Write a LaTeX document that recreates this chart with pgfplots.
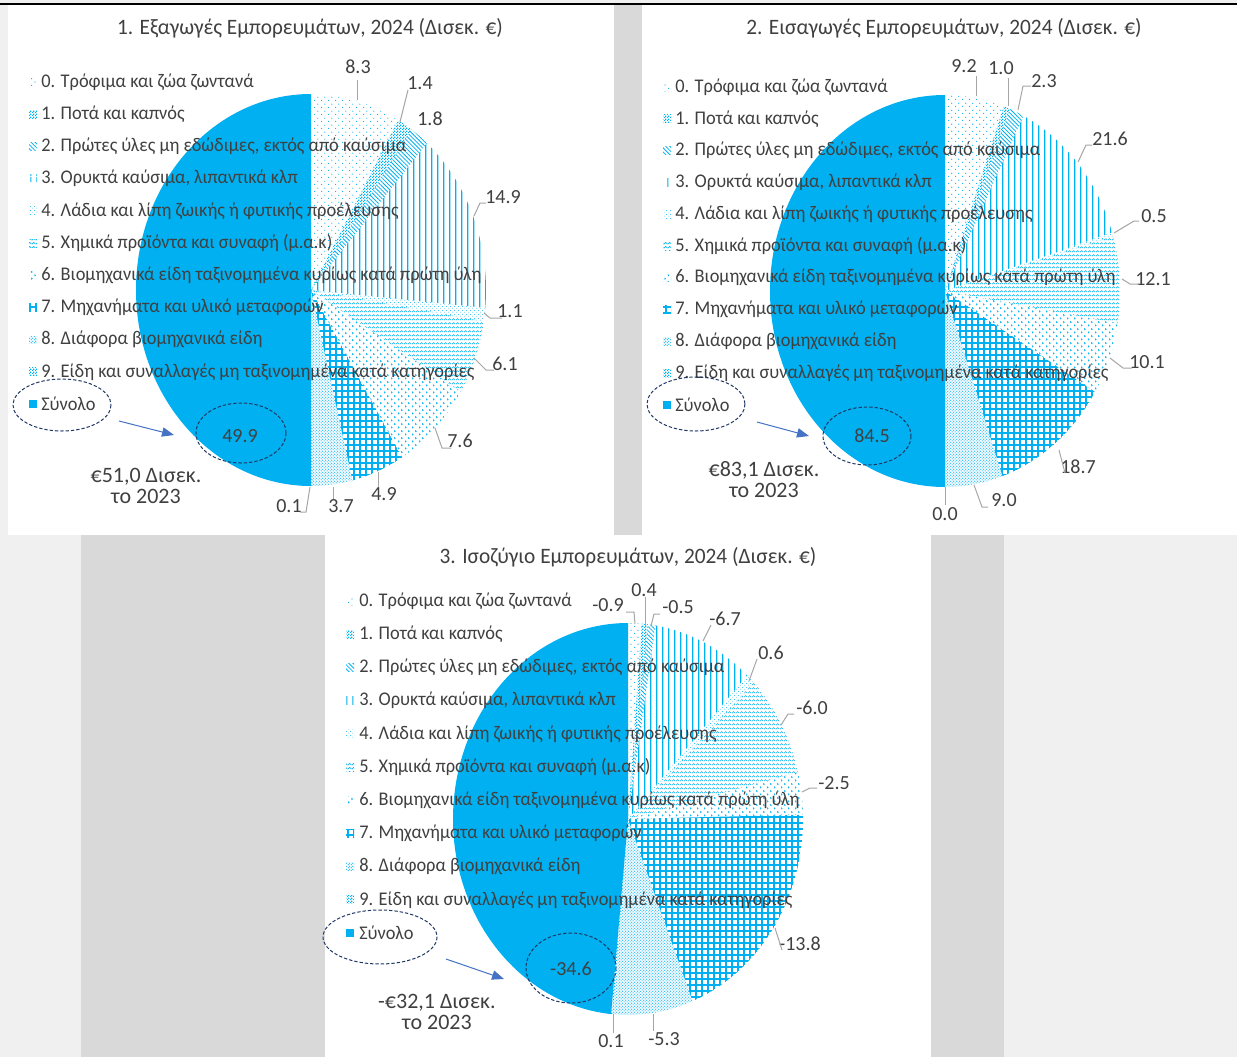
\documentclass[border=0pt]{standalone}
\usepackage{pgfplots}
\pgfplotsset{compat=1.18}
\usepackage{pgfplotstable}
\usepackage{fontspec}
\setmainfont{Carlito}
\usetikzlibrary{patterns,patterns.meta,arrows.meta}

\definecolor{pieblue}{HTML}{00B0F0}
\definecolor{txt}{HTML}{404040}
\definecolor{lead}{HTML}{A6A6A6}
\definecolor{navy}{HTML}{203864}
\definecolor{arrowblue}{HTML}{4472C4}
\definecolor{bgdark}{HTML}{D9D9D9}
\definecolor{bglight}{HTML}{F0F0F0}

% --- patterns (form only, coloured with pieblue)
\pgfdeclarepatternformonly{sparsedots}{\pgfqpoint{0pt}{0pt}}{\pgfqpoint{5pt}{5pt}}{\pgfqpoint{5pt}{5pt}}{%
  \pgfpathcircle{\pgfqpoint{1.25pt}{1.25pt}}{0.45pt}%
  \pgfpathcircle{\pgfqpoint{3.75pt}{3.75pt}}{0.45pt}\pgfusepath{fill}}
\pgfdeclarepatternformonly{checker}{\pgfqpoint{0pt}{0pt}}{\pgfqpoint{2pt}{2pt}}{\pgfqpoint{2pt}{2pt}}{%
  \pgfpathrectangle{\pgfqpoint{0pt}{0pt}}{\pgfqpoint{1pt}{1pt}}%
  \pgfpathrectangle{\pgfqpoint{1pt}{1pt}}{\pgfqpoint{1pt}{1pt}}\pgfusepath{fill}}
\pgfdeclarepatternformonly{vlines}{\pgfqpoint{0pt}{0pt}}{\pgfqpoint{4.3pt}{4pt}}{\pgfqpoint{4.3pt}{4pt}}{%
  \pgfpathrectangle{\pgfqpoint{1.7pt}{0pt}}{\pgfqpoint{0.9pt}{4pt}}\pgfusepath{fill}}
\pgfdeclarepatternformonly{middots}{\pgfqpoint{0pt}{0pt}}{\pgfqpoint{3pt}{3pt}}{\pgfqpoint{3pt}{3pt}}{%
  \pgfpathcircle{\pgfqpoint{0.75pt}{0.75pt}}{0.4pt}%
  \pgfpathcircle{\pgfqpoint{2.25pt}{2.25pt}}{0.4pt}\pgfusepath{fill}}
\pgfdeclarepatternformonly{zigzag}{\pgfqpoint{0pt}{0pt}}{\pgfqpoint{3pt}{3pt}}{\pgfqpoint{3pt}{3pt}}{%
  \pgfsetlinewidth{0.55pt}%
  \pgfpathmoveto{\pgfqpoint{0pt}{0.8pt}}\pgfpathlineto{\pgfqpoint{1.5pt}{2.2pt}}%
  \pgfpathlineto{\pgfqpoint{3pt}{0.8pt}}\pgfusepath{stroke}}
\pgfdeclarepatternformonly{chevrons}{\pgfqpoint{0pt}{0pt}}{\pgfqpoint{5pt}{5pt}}{\pgfqpoint{5pt}{5pt}}{%
  \pgfsetlinewidth{0.5pt}%
  \pgfpathmoveto{\pgfqpoint{0.85pt}{1.85pt}}\pgfpathlineto{\pgfqpoint{1.65pt}{1.25pt}}\pgfpathlineto{\pgfqpoint{0.85pt}{0.65pt}}%
  \pgfpathmoveto{\pgfqpoint{3.35pt}{4.35pt}}\pgfpathlineto{\pgfqpoint{4.15pt}{3.75pt}}\pgfpathlineto{\pgfqpoint{3.35pt}{3.15pt}}%
  \pgfusepath{stroke}}
\pgfdeclarepatternformonly{densedots}{\pgfqpoint{0pt}{0pt}}{\pgfqpoint{2.2pt}{2.2pt}}{\pgfqpoint{2.2pt}{2.2pt}}{%
  \pgfpathcircle{\pgfqpoint{0.55pt}{0.55pt}}{0.45pt}%
  \pgfpathcircle{\pgfqpoint{1.65pt}{1.65pt}}{0.45pt}\pgfusepath{fill}}

\tikzset{
  p0/.style={pattern=sparsedots, pattern color=pieblue},
  p1/.style={pattern=checker, pattern color=pieblue},
  p2/.style={pattern={Lines[angle=-45,distance=2.2pt,line width=0.6pt]}, pattern color=pieblue},
  p3/.style={pattern=vlines, pattern color=pieblue},
  p4/.style={pattern=middots, pattern color=pieblue},
  p5/.style={pattern=zigzag, pattern color=pieblue},
  p6/.style={pattern=chevrons, pattern color=pieblue},
  p7/.style={pattern={Hatch[angle=0,distance=4.5pt,line width=0.9pt]}, pattern color=pieblue},
  p8/.style={pattern=densedots, pattern color=pieblue},
  p9/.style={pattern=checker, pattern color=pieblue},
  p10/.style={fill=pieblue},
}

% --- data (Δισεκ. €)
\pgfplotstableread{
cat val
0 8.3
1 1.4
2 1.8
3 14.9
4 1.1
5 6.1
6 7.6
7 4.9
8 3.7
9 0.1
}\exports
\pgfplotstableread{
cat val
0 9.2
1 1.0
2 2.3
3 21.6
4 0.5
5 12.1
6 10.1
7 18.7
8 9.0
9 0.0
}\imports
\pgfplotstableread{
cat val
0 -0.9
1 0.4
2 -0.5
3 -6.7
4 0.6
5 -6.0
6 -2.5
7 -13.8
8 -5.3
9 0.1
}\balance

\def\rx{131.25pt}
\def\ry{147pt}

% slice angles: categories clockwise from the top, total counter-clockwise
\newcommand\computepie[3]{%
  \xdef\cum{0}%
  \foreach \i in {0,...,9}{%
    \pgfplotstablegetelem{\i}{val}\of#2%
    \pgfmathparse{\cum+abs(\pgfplotsretval)}\xdef\cum{\pgfmathresult}}%
  \pgfmathparse{\cum+abs(#3)}\xdef\full{\pgfmathresult}%
  \xdef\cum{0}%
  \foreach \i in {0,...,9}{%
    \pgfplotstablegetelem{\i}{val}\of#2%
    \pgfmathparse{90-\cum/\full*360}\expandafter\xdef\csname #1a\i\endcsname{\pgfmathresult}%
    \pgfmathparse{\cum+abs(\pgfplotsretval)}\xdef\cum{\pgfmathresult}%
    \pgfmathparse{90-\cum/\full*360}\expandafter\xdef\csname #1b\i\endcsname{\pgfmathresult}}%
  \pgfmathparse{90+abs(#3)/\full*360}\expandafter\xdef\csname #1T\endcsname{\pgfmathresult}%
}
\computepie{ex}{\exports}{49.9}
\computepie{im}{\imports}{84.5}
\computepie{ba}{\balance}{-34.6}

\newcommand\drawpie[1]{%
  \addplot[fill=pieblue, draw=none] coordinates {(0,0)} -- (axis cs:0,1)
    arc[start angle=90, end angle=\csname #1T\endcsname, x radius=\rx, y radius=\ry] -- cycle;
  \pgfplotsinvokeforeach{0,...,9}{%
    \addplot[p##1, draw=none] coordinates {(0,0)}
      -- (axis cs:{cos(\csname #1a##1\endcsname)},{sin(\csname #1a##1\endcsname)})
      arc[start angle=\csname #1a##1\endcsname, end angle=\csname #1b##1\endcsname, x radius=\rx, y radius=\ry] -- cycle;
  }}

\pgfplotsset{pieaxis/.style={anchor=origin, x=\rx, y=\ry, xmin=-1, xmax=1, ymin=-1, ymax=1, hide axis, clip=false}}

\newcommand\legendblock[4]{% icon x, text x, first y, step
  \foreach \t [count=\k from 0] in {0. Τρόφιμα και ζώα ζωντανά, 1. Ποτά και καπνός,
      {2. Πρώτες ύλες μη εδώδιμες, εκτός από καύσιμα}, {3. Ορυκτά καύσιμα, λιπαντικά κλπ},
      4. Λάδια και λίπη ζωικής ή φυτικής προέλευσης, 5. Χημικά προϊόντα και συναφή (μ.α.κ),
      6. Βιομηχανικά είδη ταξινομημένα κυρίως κατά πρώτη ύλη, 7. Μηχανήματα και υλικό μεταφορών,
      8. Διάφορα βιομηχανικά είδη, 9. Είδη και συναλλαγές μη ταξινομημένα κατά κατηγορίες, Σύνολο}{%
    \pgfmathsetmacro\yy{#3+\k*#4}
    \fill[p\k] (#1-4,\yy-4) rectangle (#1+4,\yy+4);
    \node[anchor=west, inner sep=0pt, text=txt, font=\fontsize{14.5}{16}\selectfont] at (#2,\yy) {\scalebox{0.95}[1]{\t}};
  }}

\begin{document}
\begin{tikzpicture}
\begin{scope}[x=0.75pt, y=-0.75pt]
  \fill[bglight] (0,0) rectangle (1237,1057);
  \fill[white] (8,5) rectangle (614,535);
  \fill[bgdark] (614,5) rectangle (642,535);
  \fill[white] (642,5) rectangle (1237,535);
  \fill[bgdark] (81,535) rectangle (325,1057);
  \fill[white] (325,535) rectangle (931,1057);
  \fill[bgdark] (931,535) rectangle (1004,1057);
  \draw[black, line width=1.5pt] (0,4) -- (1237,4);
\end{scope}

\begin{axis}[pieaxis, at={(311*0.75pt,-290*0.75pt)}]
  \drawpie{ex}
\end{axis}
\begin{axis}[pieaxis, at={(945*0.75pt,-291*0.75pt)}]
  \drawpie{im}
\end{axis}
\begin{axis}[pieaxis, at={(628*0.75pt,-819*0.75pt)}]
  \drawpie{ba}
\end{axis}

\begin{scope}[x=0.75pt, y=-0.75pt, text=txt]
  \tikzset{ttl/.style={font=\fontsize{16.5}{19}\selectfont},
           val/.style={font=\fontsize{15}{17}\selectfont, inner sep=0pt},
           ldr/.style={draw=lead, line width=0.75pt},
           ann/.style={font=\fontsize{16.5}{15.75}\selectfont, align=center},
           ring/.style={draw=navy, line width=0.75pt, dash pattern=on 2.5pt off 1.5pt},
           arw/.style={draw=arrowblue, line width=0.75pt, -{Triangle[length=9pt,width=7pt]}}}
  % panel 1
  \node[ttl] at (310,28) {\scalebox{0.97}[1]{1. Εξαγωγές Εμπορευμάτων, 2024 (Δισεκ. €)}};
  \legendblock{33}{41}{82}{32.2}
  \node[val] at (358,67) {8.3};  \draw[ldr] (357,80) -- (357,100);
  \node[val] at (420,83) {1.4};  \draw[ldr] (408,90) -- (400,122);
  \node[val] at (430,119) {1.8};
  \node[val] at (503,197) {14.9}; \draw[ldr] (486,203) -- (480,203) -- (474,216);
  \node[val] at (510,311) {1.1}; \draw[ldr] (502,318) -- (490,318) -- (484,313);
  \node[val] at (505,364) {6.1}; \draw[ldr] (494,370) -- (486,370) -- (474,358);
  \node[val] at (460,441) {7.6}; \draw[ldr] (451,448) -- (442,448) -- (435,428);
  \node[val] at (384,494) {4.9}; \draw[ldr] (378,487) -- (378,472);
  \node[val] at (341,506) {3.7}; \draw[ldr] (333,499) -- (333,487);
  \node[val] at (289,506) {0.1}; \draw[ldr] (300,512) -- (306,512) -- (310,487);
  \node[val] at (240,436) {49.9};
  \draw[ring] (241,433) ellipse [x radius=45, y radius=30];
  \draw[ring] (62,405) ellipse [x radius=49, y radius=26];
  \draw[arw] (119,421) -- (174,435);
  \node[ann] at (146,486) {€51,0 Δισεκ.\\το 2023};
  % panel 2
  \node[ttl] at (944,28) {\scalebox{0.97}[1]{2. Εισαγωγές Εμπορευμάτων, 2024 (Δισεκ. €)}};
  \legendblock{667}{675}{87}{31.8}
  \node[val] at (964,66) {9.2};  \draw[ldr] (976,76) -- (976,96);
  \node[val] at (1001,68) {1.0}; \draw[ldr] (1008,78) -- (1008,106);
  \node[val] at (1044,81) {2.3}; \draw[ldr] (1031,86) -- (1023,86) -- (1018,110);
  \node[val] at (1110,139) {21.6}; \draw[ldr] (1092,145) -- (1086,145) -- (1078,162);
  \node[val] at (1154,216) {0.5}; \draw[ldr] (1139,221) -- (1134,221) -- (1114,233);
  \node[val] at (1153,279) {12.1}; \draw[ldr] (1139,284) -- (1130,284) -- (1122,279);
  \node[val] at (1147,362) {10.1}; \draw[ldr] (1132,368) -- (1123,368) -- (1110,358);
  \node[val] at (1078,467) {18.7}; \draw[ldr] (1065,473) -- (1059,450);
  \node[val] at (1004,500) {9.0}; \draw[ldr] (988,507) -- (982,507) -- (974,485);
  \node[val] at (945,514) {0.0}; \draw[ldr] (945,487) -- (945,505);
  \node[val] at (872,436) {84.5};
  \draw[ring] (867,436) ellipse [x radius=44, y radius=29];
  \draw[ring] (696,404) ellipse [x radius=49, y radius=27];
  \draw[arw] (757,422) -- (809,436);
  \node[ann] at (764,480) {€83,1 Δισεκ.\\το 2023};
  % panel 3
  \node[ttl] at (628,557) {\scalebox{0.97}[1]{3. Ισοζύγιο Εμπορευμάτων, 2024 (Δισεκ. €)}};
  \legendblock{350}{359}{601}{33.2}
  \node[val] at (608,605) {-0.9}; \draw[ldr] (626,612) -- (634,612) -- (635,624);
  \node[val] at (644,590) {0.4};  \draw[ldr] (645,597) -- (645,626);
  \node[val] at (678,607) {-0.5}; \draw[ldr] (660,614) -- (654,614) -- (651,626);
  \node[val] at (725,619) {-6.7}; \draw[ldr] (711,625) -- (703,641);
  \node[val] at (771,653) {0.6};  \draw[ldr] (757,659) -- (749,681);
  \node[val] at (812,708) {-6.0}; \draw[ldr] (794,714) -- (788,714) -- (781,725);
  \node[val] at (834,783) {-2.5}; \draw[ldr] (817,788) -- (810,788) -- (802,792);
  \node[val] at (800,944) {-13.8}; \draw[ldr] (782,950) -- (775,928);
  \node[val] at (664,1039) {-5.3}; \draw[ldr] (653,1014) -- (653,1031);
  \node[val] at (611,1041) {0.1}; \draw[ldr] (613,1014) -- (613,1033);
  \node[val] at (571,969) {-34.6};
  \draw[ring] (571,968) ellipse [x radius=45, y radius=35];
  \draw[ring] (380,937) ellipse [x radius=57, y radius=27];
  \draw[arw] (446,959) -- (504,979);
  \node[ann] at (437,1012) {-€32,1 Δισεκ.\\το 2023};
  \pgfresetboundingbox
  \useasboundingbox (0,0) rectangle (1237,1057);
\end{scope}
\end{tikzpicture}
\end{document}
